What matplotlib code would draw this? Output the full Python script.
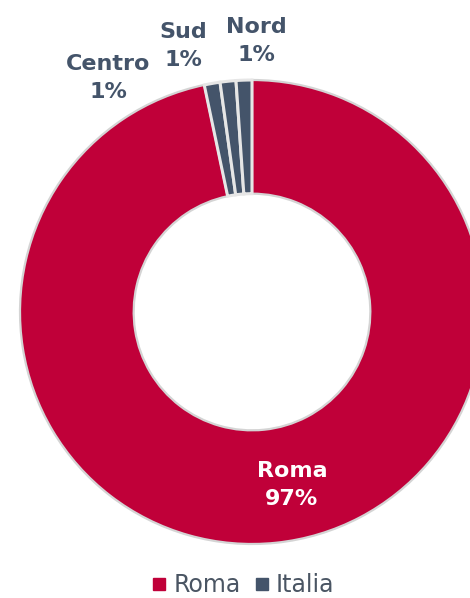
import matplotlib.pyplot as plt
from matplotlib.lines import Line2D

# dati
aree = ['Roma', 'Centro', 'Sud', 'Nord']
valori = [96.7, 1.1, 1.1, 1.1]
percentuali = ['97%', '1%', '1%', '1%']
gruppi = ['Roma', 'Italia']

rosso = '#C00039'
grigio = '#44546A'
colori = [rosso, grigio, grigio, grigio]

fig = plt.figure(figsize=(4.70, 5.98), dpi=100)
ax = fig.add_axes([0, 0, 1, 1])

# pixel -> coordinate dati (centro 252,312 ; raggio 232 px)
cx, cy, r = 252, 312, 232
def px(x, y):
    return (x - cx) / r, (cy - y) / r

wedges, _ = ax.pie(valori, colors=colori, startangle=90, counterclock=False,
                   radius=1.0, wedgeprops=dict(width=0.49, edgecolor='#d4d4d4', linewidth=1.6))
for w in wedges[1:]:
    w.set_edgecolor('#e6e6e6')
    w.set_linewidth(2.2)

ax.set_xlim(-cx / r, (470 - cx) / r)
ax.set_ylim(-(598 - cy) / r, cy / r)
ax.set_aspect('equal')
ax.axis('off')

# etichette esterne
pos = {'Nord': (256, 41), 'Sud': (183, 46), 'Centro': (108, 78)}
for nome, perc in zip(aree[1:], percentuali[1:]):
    x, y = px(*pos[nome])
    ax.text(x, y, f'{nome}\n{perc}', ha='center', va='center', fontsize=16,
            fontweight='bold', color=grigio, linespacing=1.5)

x, y = px(292, 485)
ax.text(x, y, f'{aree[0]}\n{percentuali[0]}', ha='center', va='center', fontsize=16,
        fontweight='bold', color='white', linespacing=1.5)

maniglie = [Line2D([0], [0], marker='s', linestyle='', markersize=8, color=c)
            for c in [rosso, grigio]]
fig.legend(maniglie, gruppi, loc='center', bbox_to_anchor=(0.515, 1 - 585 / 598),
           ncol=2, frameon=False, fontsize=17, handletextpad=0.2, columnspacing=0.5,
           handlelength=0.8, labelcolor='#4a5563')

fig.savefig('out.png', dpi=100)
